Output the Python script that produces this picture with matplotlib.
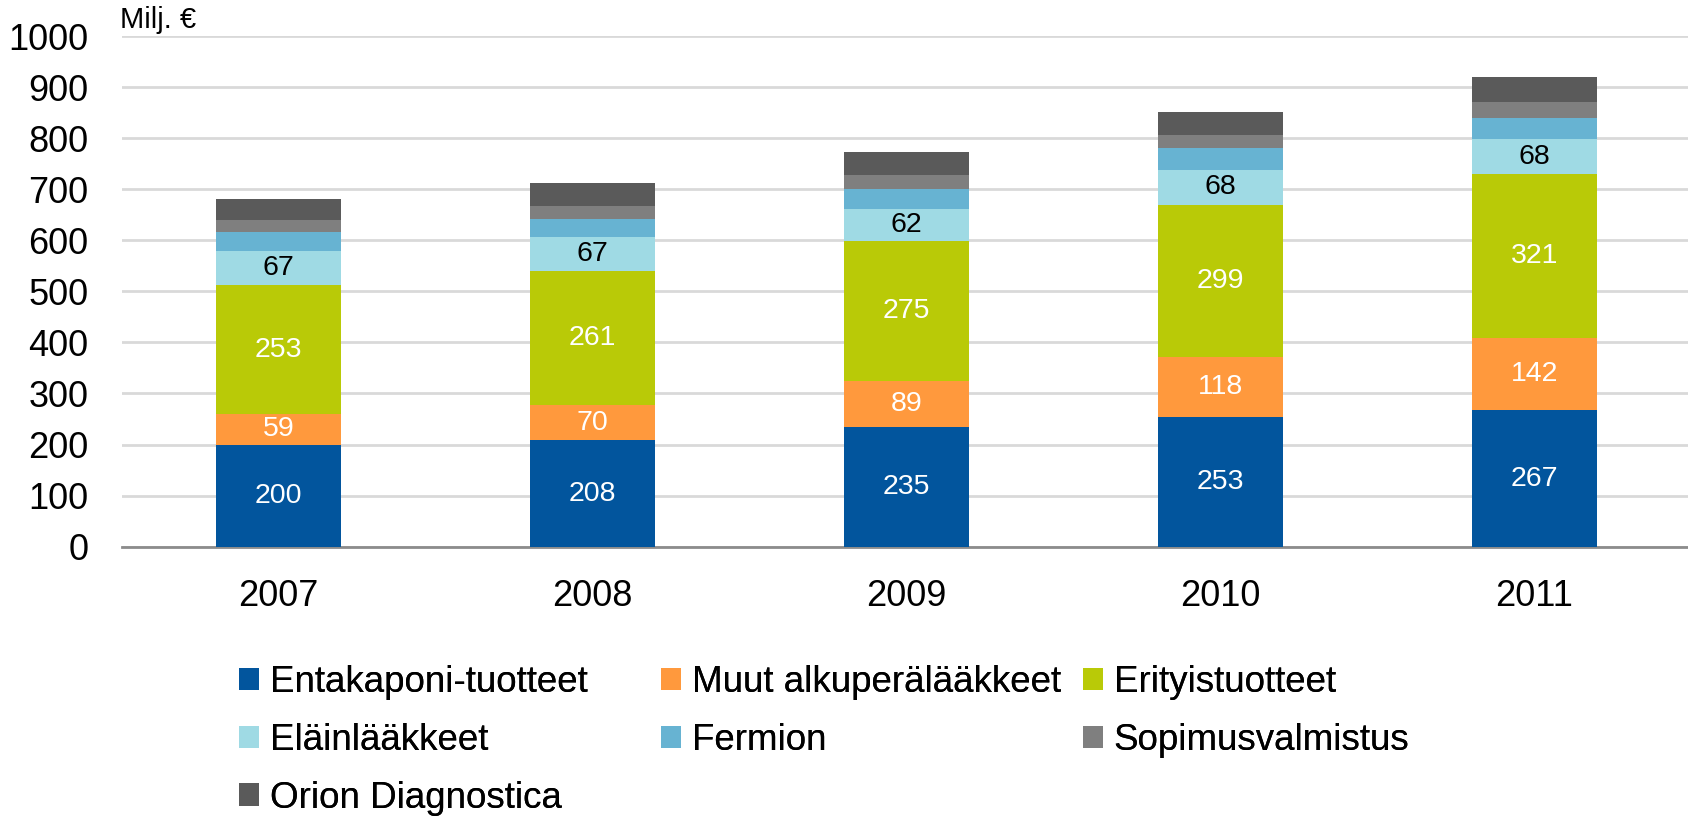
import matplotlib.pyplot as plt
import numpy as np

plt.rcParams['font.family'] = ['Liberation Sans', 'DejaVu Sans']

years = ['2007', '2008', '2009', '2010', '2011']
entakaponi = [200, 208, 235, 253, 267]
muut = [59, 70, 89, 118, 142]
erityis = [253, 261, 275, 299, 321]
elain = [67, 67, 62, 68, 68]
fermion = [37, 35, 40, 43, 42]
sopimus = [23, 26, 27, 25, 31]
diagnostica = [42, 45, 45, 45, 48]

series = [
    ('Entakaponi-tuotteet', entakaponi, '#02559D', 'white', True),
    ('Muut alkuperälääkkeet', muut, '#FF993D', 'white', True),
    ('Erityistuotteet', erityis, '#B9CA07', 'white', True),
    ('Eläinlääkkeet', elain, '#9FDAE4', 'black', True),
    ('Fermion', fermion, '#67B3D2', 'black', False),
    ('Sopimusvalmistus', sopimus, '#7F7F7F', 'black', False),
    ('Orion Diagnostica', diagnostica, '#5A5A5A', 'black', False),
]

fig = plt.figure(figsize=(16.88, 8.19), dpi=100)
ax = fig.add_axes([0.072, 0.3325, 0.93, 0.6235])

x = np.arange(len(years))
bottom = np.zeros(len(years))
handles = []
for name, vals, color, tcolor, show in series:
    vals = np.array(vals, dtype=float)
    b = ax.bar(x, vals, 0.4, bottom=bottom, color=color, label=name, zorder=3)
    handles.append(b)
    if show:
        for xi, v, b0 in zip(x, vals, bottom):
            ax.text(xi, b0 + v / 2, str(int(v)), ha='center', va='center',
                    color=tcolor, fontsize=20.5, zorder=4)
    bottom += vals

ax.set_xlim(-0.5, 4.5)
ax.set_ylim(0, 1000)
ax.set_yticks(range(0, 1001, 100))
ax.set_xticks(x)
ax.set_xticklabels(years)
ax.tick_params(axis='both', length=0, labelsize=26)
ax.tick_params(axis='x', pad=23)
ax.tick_params(axis='y', pad=24)
ax.yaxis.grid(True, color='#D9D9D9', linewidth=2, zorder=0)
for s in ['top', 'right', 'left']:
    ax.spines[s].set_visible(False)
ax.spines['bottom'].set_color('#8C8C8C')
ax.spines['bottom'].set_linewidth(2)

fig.text(0.071, 0.976, 'Milj. €', fontsize=21, va='center', ha='left')

# legend: three columns, filled row by row
columns = [[0, 3, 6], [1, 4], [2, 5]]
col_x = [239, 661, 1083]
for idx, cx in zip(columns, col_x):
    lg = fig.legend(handles=[handles[i] for i in idx], labels=[series[i][0] for i in idx],
                    loc='upper left', bbox_to_anchor=(cx / 1688, 0.188), frameon=False,
                    fontsize=26.5, handlelength=0.53, handleheight=0.57, handletextpad=0.3,
                    labelspacing=0.62, borderpad=0, borderaxespad=0)
    fig.add_artist(lg)

fig.savefig('out.png', dpi=100)
